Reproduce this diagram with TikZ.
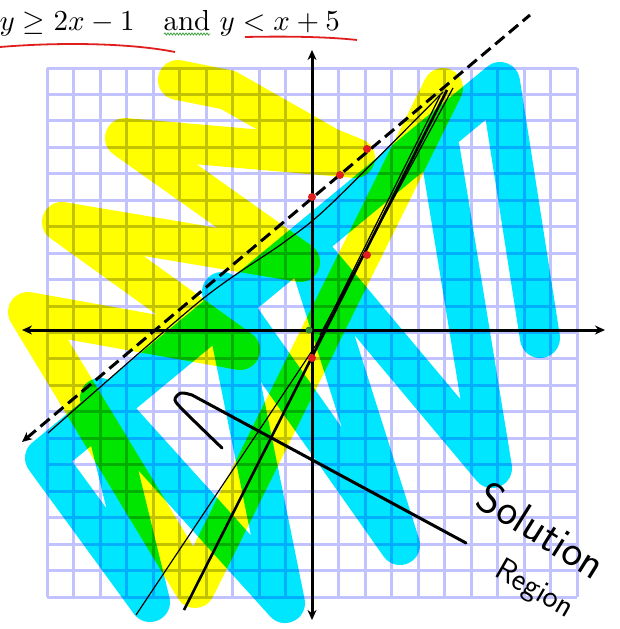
\documentclass[tikz,border=0pt]{standalone}
\usepackage{amsmath,amssymb}
\usetikzlibrary{arrows.meta, decorations.pathmorphing}
\definecolor{gridlav}{HTML}{C2C2FF}
\definecolor{hlyellow}{HTML}{FFFF00}
\definecolor{hlcyan}{HTML}{00E6FF}
\definecolor{inkred}{HTML}{E01E1E}
\definecolor{spellgreen}{HTML}{3CA03C}
\definecolor{dotgreen}{HTML}{2E8B2E}

\tikzset{
  axisline/.style={black, line width=3pt, {Stealth[length=10pt,width=9pt]}-{Stealth[length=10pt,width=9pt]}},
  highlight/.style={line width=40pt, line cap=round, line join=round},
  ink/.style={black, line width=1.2pt},
  reddot/.style={circle, fill=inkred, inner sep=0pt, minimum size=8pt},
  titlefont/.style={scale=2.9, inner sep=0pt, anchor=base west},
}

\begin{document}
\begin{tikzpicture}[x=1pt, y=-1pt]
\useasboundingbox (0,0) rectangle (620,629);
\fill[white] (0,0) rectangle (620,629);

% Title
\node[titlefont] (ineqA) at (-1,30) {$y \geq 2x - 1$};
\node[titlefont] (andword) at (163,30) {and};
\node[titlefont] (ineqB) at (219,30) {$y < x + 5$};
\draw[inkred, line width=1.8pt] (0,47) .. controls (60,42) and (130,43) .. (175,52);
\draw[inkred, line width=1.8pt] (245,37) .. controls (290,36) and (330,37) .. (357,40);
\draw[spellgreen, line width=0.8pt, decorate, decoration={snake, amplitude=1pt, segment length=3pt}] (164,34) -- (210,34);

% Grid
\foreach \k in {0,...,20} {
  \draw[gridlav, line width=3pt] (47+26.5*\k,68) -- (47+26.5*\k,597);
  \draw[gridlav, line width=3pt] (47,68+26.45*\k) -- (577,68+26.45*\k);
}

% Highlighter shading
\begin{scope}[blend mode=multiply]
\draw[hlyellow, highlight] (178,80) -- (228,90) -- (330,148) -- (355,158) -- (125,138) -- (300,262) -- (62,222) -- (240,350) -- (28,312) -- (195,588) -- (443,88);
\draw[hlcyan, highlight] (540,338) -- (500,82) -- (45,458) -- (150,602) -- (100,398) -- (285,603) -- (222,292) -- (400,545) -- (305,245) -- (492,468) -- (440,150);
\end{scope}

% Axes
\coordinate (xl) at (22,330);
\coordinate (xr) at (605,330);
\coordinate (yt) at (312,50);
\coordinate (yb) at (312,620);
\draw[axisline] (xl) -- (xr);
\draw[axisline] (yt) -- (yb);

% y < x + 5
\coordinate (dl) at (22,442);
\coordinate (dr) at (530,15);
\draw[black, line width=3pt, dash pattern=on 12pt off 6pt, {Stealth[length=10pt,width=9pt]}-] (dl) -- (dr);
\draw[ink] plot[smooth] coordinates {(48,433) (200,301) (283,243) (330,205) (443,92)};

% y >= 2x - 1
\coordinate (sb) at (184,610);
\coordinate (st) at (447,90);
\draw[black, line width=2.6pt] (sb) -- (st);
\draw[ink] (136,615) -- (316,345) -- (440,96);
\draw[ink] (320,335) -- (453,88);

% Plotted points
\node[reddot] (p1) at (312,197) {};
\node[reddot] (p2) at (340,175) {};
\node[reddot] (p3) at (367,149) {};
\node[reddot] (p4) at (312,358) {};
\node[reddot] (p5) at (367,255) {};
\node[circle, fill=dotgreen, inner sep=0pt, minimum size=7pt] (orig) at (309,330) {};

% Pointer and label
\coordinate (hk) at (466,543);
\draw[black, line width=3pt, line cap=round] plot[smooth] coordinates {(222,448) (185,412) (175,400) (181,393) (192,395)} -- (hk);
\node[font=\sffamily\fontsize{44}{48}\selectfont, rotate=-32] (soltext) at (542,530) {Solution};
\node[font=\sffamily\fontsize{32}{36}\selectfont, rotate=-30] (regtext) at (534,590) {Region};

\end{tikzpicture}
\end{document}
